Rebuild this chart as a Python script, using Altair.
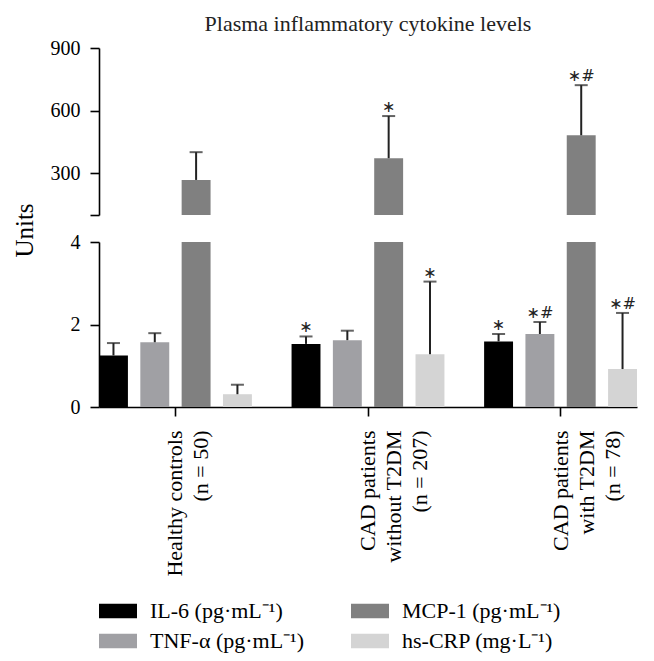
import altair as alt
import pandas as pd

# ---- data ----
groups = [
    "Healthy controls|(n = 50)",
    "CAD patients|without T2DM|(n = 207)",
    "CAD patients|with T2DM|(n = 78)",
]
series = ["IL-6 (pg·mL⁻¹)", "TNF-α (pg·mL⁻¹)", "MCP-1 (pg·mL⁻¹)", "hs-CRP (mg·L⁻¹)"]
legend_order = ["IL-6 (pg·mL⁻¹)", "MCP-1 (pg·mL⁻¹)", "TNF-α (pg·mL⁻¹)", "hs-CRP (mg·L⁻¹)"]
legend_colors = ["#000000", "#808080", "#a0a0a4", "#d4d4d4"]

il6 = [1.25, 1.53, 1.59]
il6_sd = [0.30, 0.18, 0.18]
tnf = [1.57, 1.62, 1.77]
tnf_sd = [0.22, 0.23, 0.29]
mcp = [268, 372, 482]
mcp_sd = [133, 202, 240]
crp = [0.31, 1.28, 0.92]
crp_sd = [0.23, 1.76, 1.36]

il6_sig = ["", "∗", "∗"]
tnf_sig = ["", "", "∗#"]
mcp_sig = ["", "∗", "∗#"]
crp_sig = ["", "∗", "∗#"]

rows = []
for s, vals, sds, sig in zip(series, [il6, tnf, mcp, crp], [il6_sd, tnf_sd, mcp_sd, crp_sd],
                             [il6_sig, tnf_sig, mcp_sig, crp_sig]):
    for g, v, sd, sg in zip(groups, vals, sds, sig):
        rows.append({"group": g, "series": s, "value": v, "upper": v + sd, "sig": sg})
df = pd.DataFrame(rows)
df_big = df[df["series"] == series[2]]
df_small = df[df["series"] != series[2]]

FONT = "Liberation Serif"

x_enc = alt.X("group:N", sort=groups, scale=alt.Scale(paddingInner=0.206, paddingOuter=0))
xo_enc = alt.XOffset("series:N", sort=series,
                     scale=alt.Scale(domain=series, paddingInner=0.3, paddingOuter=0))
color_enc = alt.Color("series:N", scale=alt.Scale(domain=legend_order, range=legend_colors),
                      legend=alt.Legend(title=None, orient="bottom", columns=2,
                                        symbolType="M-1,-0.385L1,-0.385L1,0.385L-1,0.385Z",
                                        symbolSize=1444, symbolStrokeWidth=0,
                                        labelFont=FONT, labelFontSize=22, labelColor="black",
                                        labelOffset=13, columnPadding=46, rowPadding=0,
                                        offset=15, labelLimit=300))


def panel(bar_data, err_data, yscale, yaxis, height, xaxis):
    xe = x_enc.axis(xaxis) if xaxis is not None else x_enc.axis(None)
    bars = alt.Chart(bar_data).mark_bar(clip=True).encode(
        x=xe, xOffset=xo_enc,
        y=alt.Y("value:Q", scale=yscale, axis=yaxis),
        color=color_enc,
    )
    err = alt.Chart(err_data)
    rules = err.mark_rule(clip=True, color="#222222", strokeWidth=2).encode(
        x=xe, xOffset=xo_enc, y=alt.Y("value:Q", scale=yscale), y2="upper:Q"
    )
    caps = err.mark_tick(clip=True, color="#222222", thickness=2, size=13).encode(
        x=xe, xOffset=xo_enc, y=alt.Y("upper:Q", scale=yscale)
    )
    text = err.transform_filter(alt.datum.sig != "").mark_text(
        font="DejaVu Sans", fontSize=16, baseline="alphabetic",
        dy=-4, color="#222222"
    ).encode(x=xe, xOffset=xo_enc, y=alt.Y("upper:Q", scale=yscale), text="sig:N")
    return alt.layer(bars, rules, caps, text).properties(width=538, height=height)


top = panel(
    df_big, df_big,
    alt.Scale(domain=[100, 900], zero=False, nice=False),
    alt.Axis(values=[100, 300, 600, 900], title=None,
             labelExpr="datum.value == 100 ? '' : datum.label"),
    167, None,
)

bottom = panel(
    df, df_small,
    alt.Scale(domain=[0, 4], nice=False),
    alt.Axis(values=[0, 2, 4], title="Units", titleX=-62, titleY=-12,
             titleBaseline="bottom", titleAngle=-90, titleAlign="center",
             titleFontSize=25),
    165,
    alt.Axis(title=None, labelAngle=-90, labelAlign="right", labelBaseline="middle",
             labelExpr="split(datum.label, '|')", labelLineHeight=26, labelPadding=14,
             labelFontSize=22, tickSize=9),
)

chart = (
    alt.vconcat(top, bottom, spacing=27, bounds="flush")
    .resolve_scale(y="independent")
    .properties(title=alt.Title("Plasma inflammatory cytokine levels", anchor="middle",
                                frame="group", fontSize=22, font=FONT, fontWeight="normal",
                                color="#222222", offset=2),
                padding={"left": 4, "top": 5, "right": 5, "bottom": 5})
    .configure_view(stroke=None)
    .configure_axis(
        labelFont=FONT, labelFontSize=20, labelColor="black",
        titleFont=FONT, titleFontSize=20, titleColor="black", titleFontWeight="normal",
        domainColor="black", domainWidth=1.6, tickColor="black", tickWidth=1.6,
        tickSize=9, labelPadding=10, grid=False,
    )
)

chart.save("out.html", embed_options={"renderer": "svg", "actions": False})
